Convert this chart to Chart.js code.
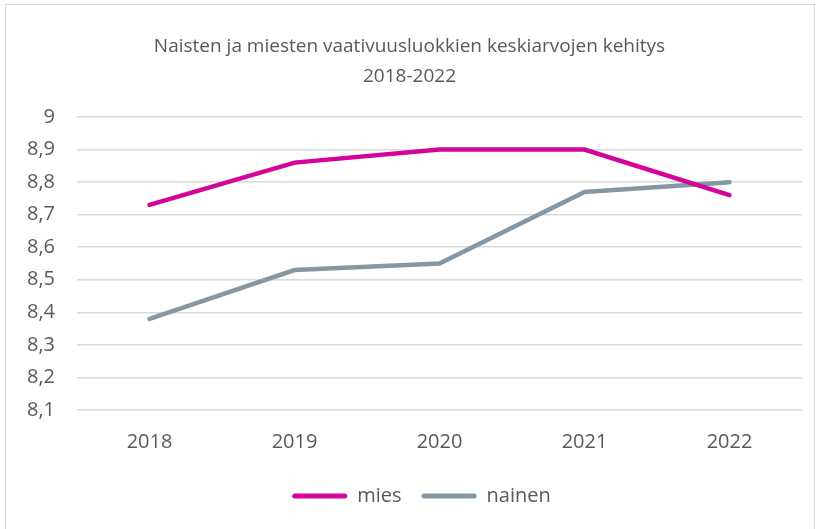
<!DOCTYPE html>
<html>
<head>
<meta charset="utf-8">
<script src="https://cdn.jsdelivr.net/npm/chart.js@4"></script>
<style>
  body { margin: 0; background: #fff; }
  #frame { position: absolute; left: 5px; top: 4px; width: 810px; height: 540px; border: 1.5px solid #d9d9d9; box-sizing: border-box; }
  #wrap { position: absolute; left: 0; top: 0; width: 820px; height: 529px; }
</style>
</head>
<body>
<div id="frame"></div>
<div id="wrap"><canvas id="chart"></canvas></div>
<script>
// data
const years = ['2018', '2019', '2020', '2021', '2022'];
const mies = [8.73, 8.86, 8.9, 8.9, 8.76];
const nainen = [8.38, 8.53, 8.55, 8.77, 8.8];
const titleLines = ['Naisten ja miesten vaativuusluokkien keskiarvojen kehitys', '2018-2022'];

const textColor = '#595959';
const font = 'Open Sans';

// title and legend sit a bit right of the canvas centre in the original
const nudgeBoxes = {
    id: 'nudgeBoxes',
    afterLayout(chart) {
        chart.titleBlock.left += 6;
        chart.titleBlock.right += 6;
        chart.legend.left += 18;
        chart.legend.right += 18;
    },
};

new Chart(document.getElementById('chart'), {
    type: 'line',
    data: {
        labels: years,
        datasets: [
            {
                label: 'mies',
                data: mies,
                borderColor: '#d2049a',
                backgroundColor: '#d2049a',
                borderWidth: 4.5,
                pointRadius: 0,
                tension: 0,
                borderCapStyle: 'round',
            },
            {
                label: 'nainen',
                data: nainen,
                borderColor: '#8597a5',
                backgroundColor: '#8597a5',
                borderWidth: 4.5,
                pointRadius: 0,
                tension: 0,
                borderCapStyle: 'round',
            },
        ],
    },
    options: {
        responsive: true,
        maintainAspectRatio: false,
        animation: false,
        layout: { padding: { left: 5, right: 18, top: 0, bottom: 13 } },
        scales: {
            x: {
                offset: true,
                grid: { display: false },
                border: { display: false },
                ticks: { color: textColor, font: { family: font, size: 20 }, padding: 12 },
            },
            y: {
                min: 8.1,
                max: 9,
                grid: { color: '#d9d9d9', lineWidth: 1.5, drawTicks: false },
                border: { display: false },
                ticks: {
                    stepSize: 0.1,
                    color: textColor,
                    padding: 22,
                    font: { family: font, size: 20 },
                    callback: v => {
                        const r = Math.round(v * 10) / 10;
                        return r === 9 ? '9' : r.toFixed(1).replace('.', ',');
                    },
                },
            },
        },
        plugins: {
            title: {
                display: true,
                text: titleLines,
                color: textColor,
                font: { family: font, size: 19, weight: 'normal', lineHeight: 1.58 },
                padding: { top: 32, bottom: 25 },
            },
            legend: {
                position: 'bottom',
                labels: {
                    color: textColor,
                    font: { family: font, size: 20 },
                    boxWidth: 55,
                    boxHeight: 5,
                    padding: 20,
                    useBorderRadius: true,
                    borderRadius: 2.5,
                    generateLabels: chart => Chart.defaults.plugins.legend.labels.generateLabels(chart)
                        .map(item => ({ ...item, lineWidth: 0 })),
                },
            },
            tooltip: { enabled: false },
        },
    },
    plugins: [nudgeBoxes],
});
</script>
</body>
</html>
